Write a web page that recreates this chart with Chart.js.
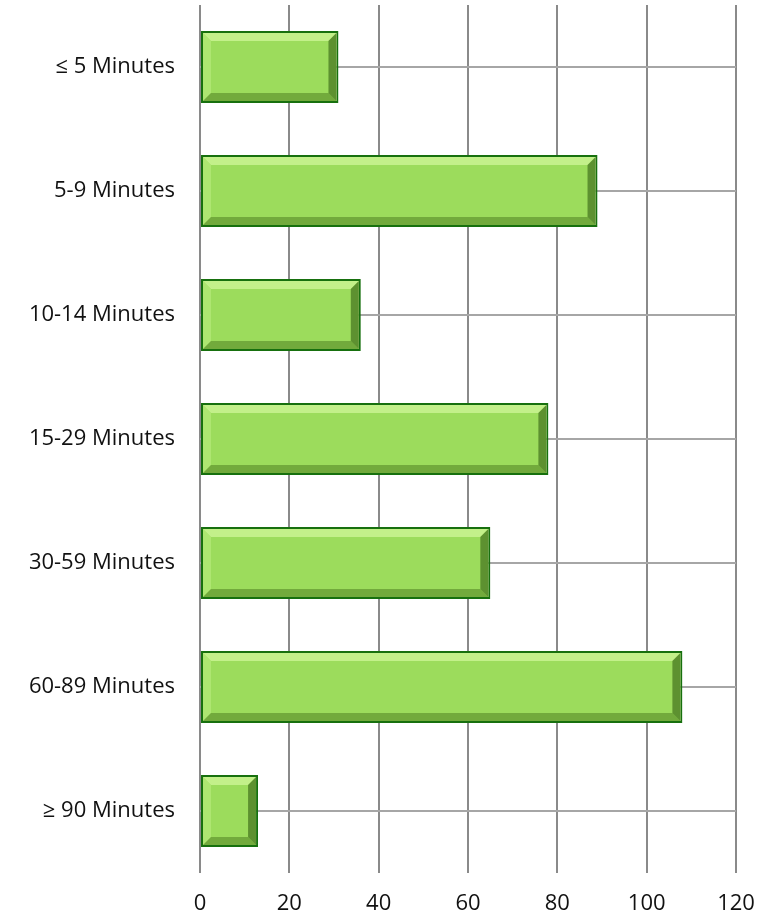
<!DOCTYPE html>
<html>
<head>
<meta charset="utf-8">
<script src="https://cdn.jsdelivr.net/npm/chart.js@4"></script>
<style>
  html, body { margin: 0; padding: 0; background: #ffffff; }
  #wrap { width: 767px; height: 916px; position: relative; }
</style>
</head>
<body>
<div id="wrap"><canvas id="barChart"></canvas></div>
<script>
const categories = ["≤ 5 Minutes", "5-9 Minutes", "10-14 Minutes", "15-29 Minutes", "30-59 Minutes", "60-89 Minutes", "≥ 90 Minutes"];
const counts = [31, 89, 36, 78, 65, 108, 13];
const xTicks = [0, 20, 40, 60, 80, 100, 120];

const fontFamily = "\"Open Sans\", \"Noto Sans\", Arial, sans-serif";
Chart.defaults.font.family = fontFamily;

// soft bevel on each bar, drawn from the bar element's own geometry
const bevelPlugin = {
  id: "bevel",
  afterDatasetsDraw(chart) {
    const ctx = chart.ctx;
    chart.getDatasetMeta(0).data.forEach((bar) => {
      const left = bar.base;
      const right = bar.x;
      const top = bar.y - bar.height / 2;
      const bottom = bar.y + bar.height / 2;
      const b = 10;
      const e = 2;
      const face = (pts, color) => {
        ctx.fillStyle = color;
        ctx.beginPath();
        ctx.moveTo(pts[0][0], pts[0][1]);
        pts.slice(1).forEach((p) => ctx.lineTo(p[0], p[1]));
        ctx.closePath();
        ctx.fill();
      };
      ctx.save();
      face([[left + e, top + e], [right - e, top + e], [right - b, top + b], [left + b, top + b]], "rgba(205, 245, 150, 0.8)");
      face([[left + e, top + e], [left + b, top + b], [left + b, bottom - b], [left + e, bottom - e]], "rgba(185, 235, 125, 0.65)");
      face([[left + e, bottom - e], [right - e, bottom - e], [right - b, bottom - b], [left + b, bottom - b]], "rgba(80, 130, 35, 0.55)");
      face([[right - e, top + e], [right - e, bottom - e], [right - b, bottom - b], [right - b, top + b]], "rgba(60, 105, 25, 0.65)");
      ctx.restore();
    });
  }
};

new Chart(document.getElementById("barChart"), {
  type: "bar",
  data: {
    labels: categories,
    datasets: [{
      data: counts,
      backgroundColor: "#9cdc5c",
      borderColor: "#17700e",
      borderWidth: 2,
      borderSkipped: false,
      barPercentage: 0.58,
      categoryPercentage: 1
    }]
  },
  options: {
    indexAxis: "y",
    responsive: true,
    maintainAspectRatio: false,
    animation: false,
    layout: { padding: { top: 5, right: 31, left: 0, bottom: 0 } },
    plugins: {
      legend: { display: false },
      tooltip: { enabled: false }
    },
    scales: {
      x: {
        min: 0,
        max: 120,
        afterBuildTicks(scale) {
          scale.ticks = xTicks.map((v) => ({ value: v }));
        },
        afterFit(scale) {
          scale.height = 43;
          scale.paddingLeft = 0;
          scale.paddingRight = 0;
        },
        grid: { color: "#8a8a8a", lineWidth: 2, drawTicks: false },
        border: { display: false },
        ticks: { color: "#111111", font: { size: 22 }, padding: 18 }
      },
      y: {
        afterFit(scale) {
          scale.width = 200;
          scale.paddingTop = 0;
          scale.paddingBottom = 0;
        },
        grid: { offset: false, color: "#a6a6a6", lineWidth: 2, drawTicks: false },
        border: { display: false },
        ticks: { color: "#111111", font: { size: 22 }, padding: 25 }
      }
    }
  },
  plugins: [bevelPlugin]
});
</script>
</body>
</html>
